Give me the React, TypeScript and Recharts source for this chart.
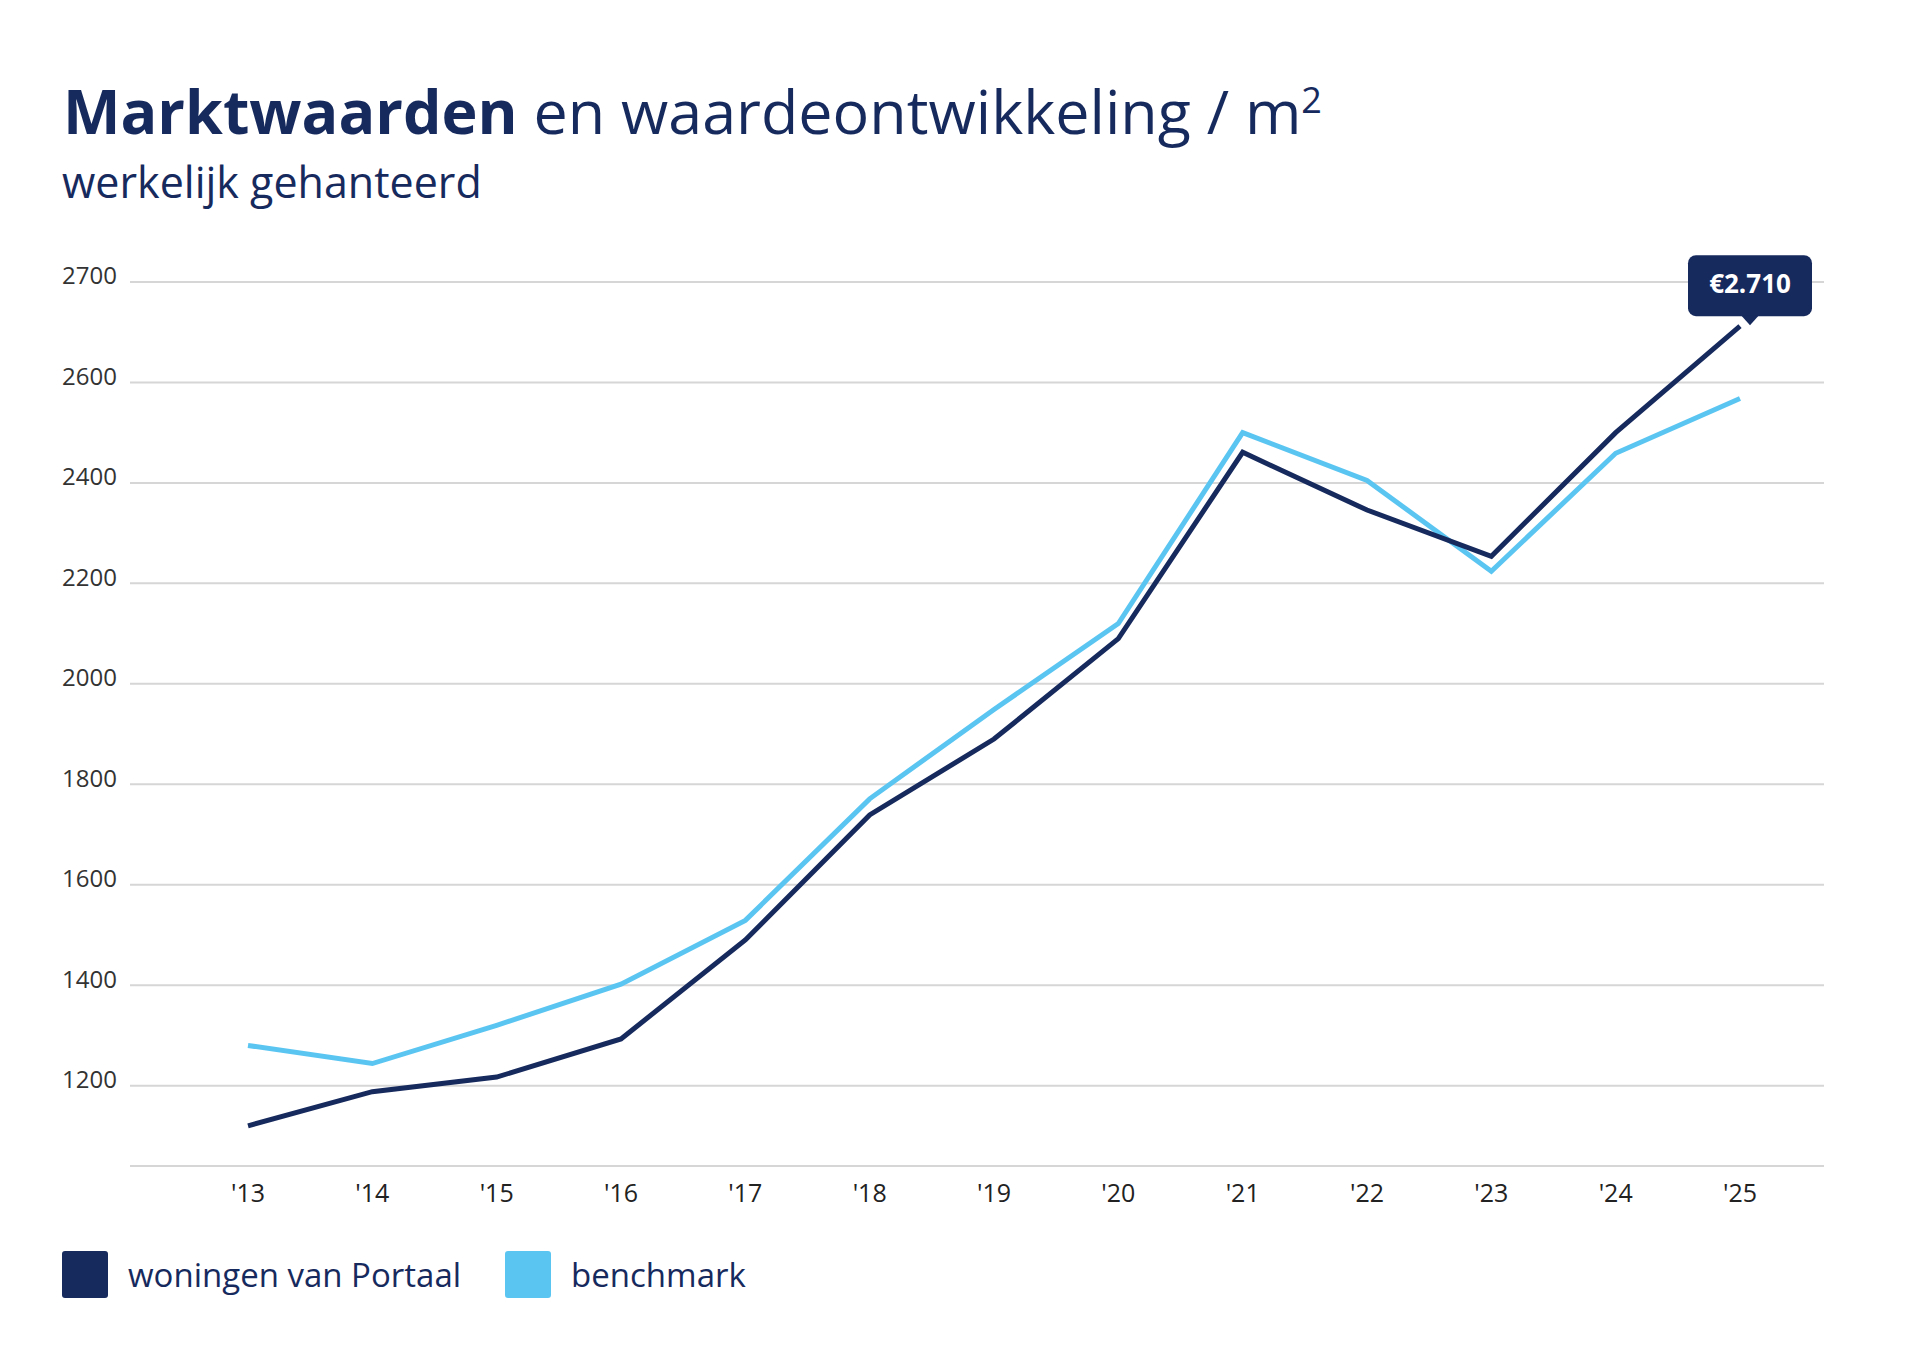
import React from 'react';
import { LineChart, Line, XAxis, YAxis, CartesianGrid } from 'recharts';

const years = ["'13", "'14", "'15", "'16", "'17", "'18", "'19", "'20", "'21", "'22", "'23", "'24", "'25"];
const portaal = [1120, 1188, 1217, 1293, 1490, 1739, 1890, 2090, 2461, 2346, 2254, 2500, 2656];
const benchmark = [1280, 1244, 1320, 1402, 1529, 1771, 1949, 2120, 2500, 2405, 2224, 2459, 2568];
const tickLabels = ['1200', '1400', '1600', '1800', '2000', '2200', '2400', '2600', '2700'];
const lastLabel = '€2.710';

const NAVY = '#172a5e';
const SKY = '#5bc5f2';

// the axis of the source is not linear: 200 per step up to 2600, then 100
const pos = (v: number) => (v <= 2600 ? (v - 1000) / 200 : 8 + (v - 2600) / 100);

const data = years.map((y, i) => ({ year: y, portaal: pos(portaal[i]), benchmark: pos(benchmark[i]) }));

const YTick = (props: any) => {
  const { y, payload } = props;
  return (
    <text x={62} y={y} dy={-4} fontSize={24} fill="#333" fontFamily="Open Sans" dominantBaseline="middle">
      {tickLabels[payload.value - 1]}
    </text>
  );
};

const EndLabel = (props: any) => {
  const { x, y, index } = props;
  if (index !== years.length - 1) return null;
  const cx = x + 10;
  const bottom = y - 10;
  return (
    <g>
      <rect x={cx - 62} y={bottom - 61} width={124} height={61} rx={8} fill={NAVY} />
      <path d={`M${cx - 9},${bottom - 1} L${cx},${bottom + 9} L${cx + 9},${bottom - 1} Z`} fill={NAVY} />
      <text x={cx} y={bottom - 30} textAnchor="middle" dominantBaseline="middle" fill="#fff" fontSize={26} fontWeight={700} fontFamily="Open Sans">
        {lastLabel}
      </text>
    </g>
  );
};

export default function App() {
  return (
    <div style={{ position: 'absolute', left: 0, top: 0, width: 1920, height: 1359, background: '#fff', fontFamily: 'Open Sans', color: NAVY }}>
      <div style={{ position: 'absolute', left: 63, top: 80, fontSize: 61, whiteSpace: 'nowrap', lineHeight: 1 }}>
        <span style={{ fontWeight: 700 }}>Marktwaarden</span> en waardeontwikkeling / m<sup style={{ fontSize: 36 }}>2</sup>
      </div>
      <div style={{ position: 'absolute', left: 62, top: 160, fontSize: 43, lineHeight: 1, whiteSpace: 'nowrap' }}>werkelijk gehanteerd</div>
      <div style={{ position: 'absolute', left: 0, top: 0 }}>
        <LineChart width={1920} height={1228} data={data} margin={{ top: 282, right: 96, left: 0, bottom: 0 }}>
          <CartesianGrid vertical={false} stroke="#d6d6d6" strokeWidth={2} />
          <XAxis
            dataKey="year"
            height={62}
            padding={{ left: 118, right: 84 }}
            axisLine={{ stroke: '#d6d6d6', strokeWidth: 2 }}
            tickLine={false}
            tick={{ fontSize: 25, fill: '#222', fontFamily: 'Open Sans' }}
            tickMargin={12}
          />
          <YAxis
            width={130}
            domain={[0.2, 9]}
            ticks={[1, 2, 3, 4, 5, 6, 7, 8, 9]}
            axisLine={false}
            tickLine={false}
            tick={<YTick />}
          />
          <Line dataKey="benchmark" stroke={SKY} strokeWidth={5} dot={false} isAnimationActive={false} />
          <Line dataKey="portaal" stroke={NAVY} strokeWidth={5} dot={false} isAnimationActive={false} label={<EndLabel />} />
        </LineChart>
      </div>
      <div style={{ position: 'absolute', left: 62, top: 1251, display: 'flex', alignItems: 'center', fontSize: 33 }}>
        <span style={{ width: 46, height: 47, background: NAVY, borderRadius: 3, display: 'inline-block' }} />
        <span style={{ marginLeft: 20 }}>woningen van Portaal</span>
        <span style={{ width: 46, height: 47, background: SKY, borderRadius: 3, display: 'inline-block', marginLeft: 44 }} />
        <span style={{ marginLeft: 20 }}>benchmark</span>
      </div>
    </div>
  );
}
